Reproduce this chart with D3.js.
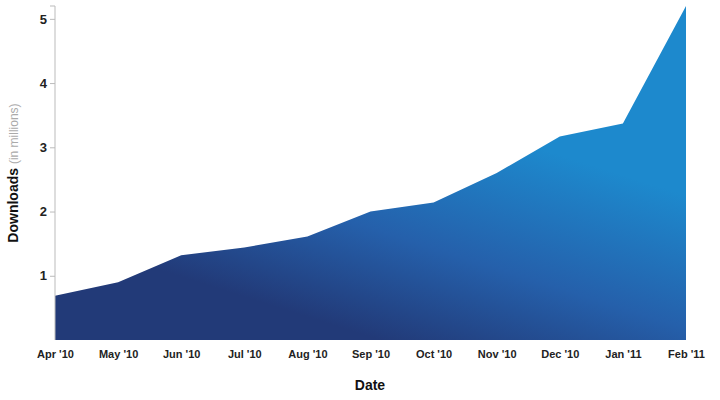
<!DOCTYPE html>
<html><head><meta charset="utf-8">
<script src="https://cdn.jsdelivr.net/npm/d3@7"></script>
<style>body{margin:0;background:#fff;font-family:"Liberation Sans",Arial,sans-serif}</style>
</head><body><svg id="c" width="720" height="400"></svg>
<script>
const months = ["Apr '10","May '10","Jun '10","Jul '10","Aug '10","Sep '10","Oct '10","Nov '10","Dec '10","Jan '11","Feb '11"];
const downloads = [0.69,0.90,1.32,1.44,1.61,2.00,2.14,2.60,3.17,3.37,5.20];
const yTicks = [1,2,3,4,5];

const svg = d3.select("#c");
const m = {l:55, r:34, t:6, b:60};
const W = 720, H = 400;
const x = d3.scalePoint().domain(months).range([m.l, W - m.r]);
const y = d3.scaleLinear().domain([0, 5.2]).range([H - m.b, m.t]);

const defs = svg.append("defs");
const g = defs.append("linearGradient").attr("id","gr").attr("gradientUnits","userSpaceOnUse")
  .attr("x1", 450).attr("y1", 120).attr("x2", 380).attr("y2", 340);
g.append("stop").attr("offset","0%").attr("stop-color","#1d89cd");
g.append("stop").attr("offset","55%").attr("stop-color","#2560ab");
g.append("stop").attr("offset","100%").attr("stop-color","#223a78");

const area = d3.area().x((d,i)=>x(months[i])).y0(y(0)).y1(d=>y(d));
svg.append("path").datum(downloads).attr("d", area).attr("fill","url(#gr)");

const ya = svg.append("g").attr("transform",`translate(${m.l},0)`)
  .call(d3.axisLeft(y).tickValues(yTicks).tickSize(5).tickFormat(d3.format("d")));
ya.select(".domain").attr("stroke","#bbb").attr("d",`M-5,${m.t}H0V${H-m.b}`);
ya.selectAll(".tick line").attr("stroke","#bbb");
ya.selectAll("text").attr("font-size",13).attr("font-weight","bold").attr("fill","#222")
  .attr("font-family","Liberation Sans, Arial");

const xa = svg.append("g").attr("transform",`translate(0,${H-m.b})`)
  .call(d3.axisBottom(x).tickSize(0).tickPadding(10));
xa.select(".domain").remove();
xa.selectAll("text").attr("font-size",11).attr("font-weight","bold").attr("fill","#222")
  .attr("font-family","Liberation Sans, Arial");

svg.append("text").attr("x", 370).attr("y", 390).attr("text-anchor","middle")
  .attr("font-size",14).attr("font-weight","bold").attr("fill","#111").text("Date");

const yl = svg.append("text").attr("transform","translate(18,173) rotate(-90)")
  .attr("text-anchor","middle").attr("font-size",14).attr("fill","#111");
yl.append("tspan").attr("font-weight","bold").text("Downloads ");
yl.append("tspan").attr("fill","#aaa").attr("font-size",12).text("(in millions)");
</script></body></html>
